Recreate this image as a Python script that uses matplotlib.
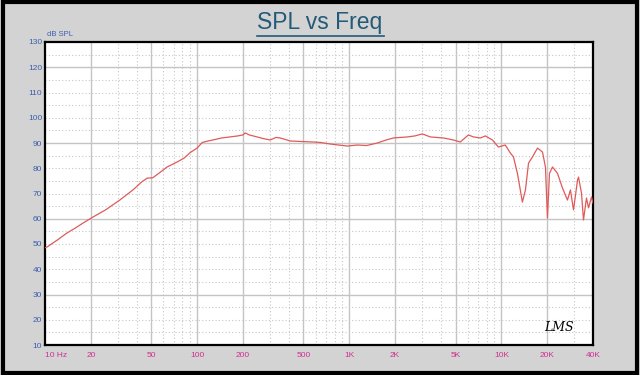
import numpy as np
import matplotlib
matplotlib.use("Agg")
import matplotlib.pyplot as plt
from matplotlib.patches import Rectangle

# SPL response
freq = [10, 10.3, 12, 13.9, 16, 18, 20.7, 25, 31, 38, 43, 47, 51, 56, 63.5, 74, 82,
        90, 100, 108, 118, 127, 145, 164, 185, 200, 207, 220, 248, 270, 302, 330,
        351, 410, 480, 580, 650, 750, 850, 970, 1130, 1300, 1530, 1750, 1950, 2410,
        2700, 3020, 3410, 4150, 4830, 5370, 6070, 6550, 7280, 7850, 8730, 9550,
        10600, 11460, 12000, 12740, 13740, 14390, 15070, 16010, 17270, 18630,
        19470, 20080, 20700, 21670, 23360, 25190, 27170, 28430, 29780, 31650,
        32120, 33600, 34630, 36240, 37380, 39100, 40000]
spl = [48.5, 48.8, 51.5, 54.3, 56.5, 58.5, 60.7, 63.5, 67.4, 71.5, 74.5, 76.1, 76.2,
       78.0, 80.5, 82.5, 84.0, 86.2, 88.0, 90.2, 90.8, 91.2, 92.0, 92.4, 92.8, 93.2,
       94.0, 93.2, 92.4, 91.8, 91.2, 92.2, 92.0, 90.8, 90.6, 90.4, 90.2, 89.6, 89.2,
       88.8, 89.2, 89.0, 90.0, 91.2, 92.0, 92.4, 92.8, 93.6, 92.4, 92.0, 91.2, 90.4,
       93.2, 92.4, 92.0, 92.8, 91.2, 88.4, 89.2, 86.0, 84.5, 78.0, 66.6, 71.4, 82.0,
       84.5, 88.0, 86.4, 80.5, 60.3, 78.0, 80.5, 78.0, 72.2, 67.4, 71.4, 63.5, 75.3,
       76.5, 70.2, 59.5, 68.2, 64.3, 68.6, 66.2]

xticks = [10, 20, 50, 100, 200, 500, 1000, 2000, 5000, 10000, 20000, 40000]
xlabels = ["10 Hz", "20", "50", "100", "200", "500", "1K", "2K", "5K", "10K", "20K", "40K"]
yticks = list(range(10, 131, 10))

plt.rcParams['font.family'] = ['Liberation Sans', 'DejaVu Sans']

fig = plt.figure(figsize=(6.4, 3.75), dpi=100)
fig.patch.set_facecolor('#d3d3d3')
fig.patches.append(Rectangle((0.004, 0.006), 0.992, 0.988, transform=fig.transFigure,
                             fill=False, edgecolor='black', linewidth=3))

ax = fig.add_axes([45/640, 30/375, 548/640, 303/375])
ax.set_facecolor('white')
ax.set_xscale('log')
ax.set_xlim(10, 40000)
ax.set_ylim(10, 130)

# grid: solid at labelled freqs, dotted at the rest
minor = [m * d for d in [10, 100, 1000, 10000] for m in range(1, 10)
         if m * d <= 40000 and m * d not in xticks]
for f in minor:
    ax.axvline(f, color='#c8c8c8', lw=0.8, ls=(0, (1, 2)), zorder=1)
for f in xticks[1:-1]:
    ax.axvline(f, color='#c4c4c4', lw=1.0, zorder=1)
for v in range(15, 130, 5):
    if v % 30 == 0:
        ax.axhline(v, color='#c4c4c4', lw=1.0, zorder=1)
    else:
        ax.axhline(v, color='#c8c8c8', lw=0.8, ls=(0, (1, 2)), zorder=1)

ax.plot(freq, spl, color='#e05a5a', lw=0.9, zorder=3)

ax.set_xticks(xticks)
ax.set_xticklabels(xlabels)
ax.xaxis.set_minor_locator(matplotlib.ticker.NullLocator())
ax.set_yticks(yticks)
ax.tick_params(axis='both', length=0, labelsize=6)
ax.tick_params(axis='x', colors='#d0308f', pad=5)
ax.tick_params(axis='y', colors='#3d5fb0', pad=2)
ax.get_xticklabels()[0].set_horizontalalignment('left')
for s in ax.spines.values():
    s.set_linewidth(1.6)
    s.set_color('black')

ax.text(0.003, 1.012, "dB SPL", transform=ax.transAxes, fontsize=5.5,
        color='#3d5fb0', ha='left', va='bottom')
ax.text(0.965, 0.035, "LMS", transform=ax.transAxes, fontsize=9, style='italic',
        family='DejaVu Serif', ha='right', va='bottom', color='black')

fig.text(0.5, 0.94, "SPL vs Freq", fontsize=16.5, color='#235a78', ha='center',
         va='center')
fig.add_artist(plt.Line2D([0.402, 0.600], [0.905, 0.905], color='#235a78', lw=1.2))

fig.savefig("out.png", dpi=100)
